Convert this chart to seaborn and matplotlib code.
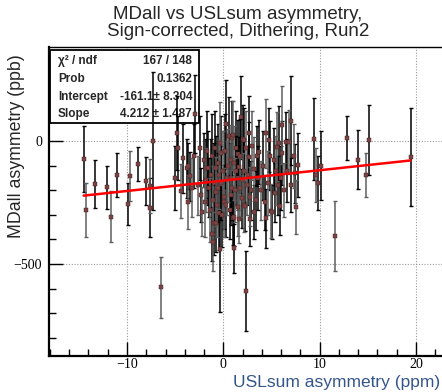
"""
MDall vs USLsum asymmetry — sign-corrected, dithering, Run2
Error-bar scatter with linear fit and ROOT-style stats box.
Output : out.png
"""

import numpy as np
import matplotlib
matplotlib.use('Agg')
import matplotlib.pyplot as plt
from matplotlib.patches import Rectangle
from matplotlib.ticker import MultipleLocator
import seaborn as sns

# ── Data ──────────────────────────────────────────────────────
usl = [
    -14.5, -14.3, -13.3, -12.1, -11.7, -11.0, -9.9, -9.7, -8.9, -8.0,
    -7.65, -7.65, -7.3, -6.5, -4.8, -4.75, -4.4, -3.8, -3.7, -3.7,
    -3.5, -2.9, -2.2, -1.8, -2.0, -1.77, -1.6, -1.15, -1.05, -0.98,
    -0.8, -0.8, -0.8, -0.45, -0.45, -0.3, -0.28, 0.07, 0.07, 0.24,
    0.4, 0.58, 0.75, 0.76, 0.93, 0.93, 1.0, 1.0, 1.1, 1.1,
    1.15, 1.5, 1.5, 1.5, 1.6, 1.6, 1.8, 1.9, 2.0, 2.0,
    2.1, 2.1, 2.3, 2.4, 2.5, 2.66, 2.7, 2.77, 2.8, 3.2,
    3.2, 3.45, 3.7, 4.45, 4.45, 4.7, 5.0, 5.1, 5.25, 5.6,
    5.8, 5.85, 6.1, 6.1, 6.5, 6.8, 7.06, 7.45, 7.6, 7.75,
    9.4, 9.6, 9.8, 10.1, 11.55, 12.8, 14.0, 14.85, 15.1, 19.45,
    -2.6, -2.4, -2.3, -1.9, -1.7, -1.5, -1.4, -1.3, -1.2, -1.1,
    -1.0, -0.9, -0.7, -0.6, -0.5, -0.35, -0.2, -0.1, 0.0, 0.15,
    0.3, 0.5, 0.65, 0.85, 1.2, 1.3, 1.35, 1.7, 1.75, 2.2,
    2.35, 2.6, 2.9, 3.0, 3.4, 3.6, 3.9, 4.1, 4.3, 4.6,
    4.9, 5.4, 5.5, 5.7, 6.0, 6.3, 6.6, 7.0, 7.3, -5.0,
    -4.2, -3.3, -3.0,
]
mdall = [
    -72, -280, -175, -188, -308, -138, -257, -142, -93, -163,
    -183, -272, 0, -595, 34, -29, -203, -110, -102, -247,
    -143, 110, -287, -110, -77, -159, -111, -378, -409, -335,
    -332, -206, -111, -294, -138, -439, -50, -249, -226, 68,
    -152, 20, -220, -77, 11, -192, 24, -314, -308, -91,
    -436, -152, -267, -53, -104, -316, 96, -233, -159, 7,
    4, -260, -264, -610, -179, -64, 31, -226, -318, -287,
    -115, -61, -46, 31, -314, 4, -283, -287, -77, -23,
    -9, -264, 65, -50, -4, -4, 83, -131, -267, -98,
    7, -138, -172, -100, -385, 11, -77, -138, 4, -64,
    -180, -30, -220, -250, -40, -190, -280, -140, -60, -240,
    -170, -30, -260, -90, -190, -10, -170, -300, -120, -40,
    -260, -100, -280, -150, -200, -30, -120, -190, -60, -120,
    -30, -140, -200, -20, -240, -150, -200, -100, -250, -170,
    -60, -210, -120, -180, -150, -200, -120, -180, -60, -150,
    -70, -190, -60,
]
err = [
    134, 110, 96, 87, 103, 88, 85, 100, 70, 98,
    110, 120, 280, 124, 150, 130, 110, 120, 95, 110,
    100, 160, 100, 120, 110, 130, 150, 110, 120, 130,
    120, 140, 130, 150, 140, 255, 150, 140, 130, 180,
    150, 160, 120, 140, 150, 130, 140, 110, 120, 150,
    100, 130, 120, 140, 120, 100, 170, 120, 110, 140,
    130, 110, 100, 163, 120, 140, 150, 120, 110, 110,
    130, 120, 130, 140, 120, 130, 110, 110, 130, 140,
    150, 120, 160, 130, 120, 130, 180, 120, 110, 130,
    166, 110, 110, 140, 143, 90, 120, 88, 142, 200,
    120, 130, 110, 140, 160, 120, 130, 150, 170, 140,
    160, 150, 130, 160, 140, 170, 150, 130, 160, 150,
    130, 150, 120, 140, 130, 150, 140, 120, 150, 130,
    150, 120, 120, 140, 120, 130, 120, 140, 110, 130,
    140, 120, 140, 120, 130, 110, 130, 110, 130, 130,
    140, 120, 130,
]

fit_intercept = -161.1
fit_slope = 4.212

stats_labels = ['χ² / ndf', 'Prob', 'Intercept', 'Slope']
stats_values = ['167 / 148', '0.1362', '-161.1± 8.304', '4.212 ± 1.487']

# ── Style ─────────────────────────────────────────────────────
sns.set_style('white')
plt.rcParams['font.family'] = ['Liberation Sans', 'DejaVu Sans']
plt.rcParams['xtick.direction'] = 'in'
plt.rcParams['ytick.direction'] = 'in'

W, H = 442, 392
fig = plt.figure(figsize=(W / 100, H / 100), dpi=100, facecolor='white')
ax = fig.add_axes([49 / W, 36 / H, 400 / W, 309 / H])

x = np.array(usl, dtype=float)
y = np.array(mdall, dtype=float)
e = np.array(err, dtype=float)

# error bars, mostly black with some lighter ones like the ROOT render
idx = np.arange(len(x))
for sel, col in [(idx % 3 != 1, '#000000'), (idx % 3 == 1, '#5e5e5e')]:
    ax.errorbar(x[sel], y[sel], yerr=e[sel], fmt='none', ecolor=col,
                elinewidth=1.1, capsize=1.5, capthick=1.0, zorder=2)

sns.scatterplot(x=x, y=y, marker='s', s=5, color='#7e4444',
                edgecolor='#3a1a1a', linewidth=0.3, zorder=3, ax=ax)

xf = np.array([x.min(), x.max()])
sns.lineplot(x=xf, y=fit_intercept + fit_slope * xf, color='#ff0000',
             linewidth=1.8, zorder=4, ax=ax)

# ── Axes formatting ───────────────────────────────────────────
ax.set_xlim(-18.1, 23.44)
ax.set_ylim(-874, 382)
ax.xaxis.set_major_locator(MultipleLocator(10))
ax.xaxis.set_minor_locator(MultipleLocator(2))
ax.yaxis.set_major_locator(MultipleLocator(500))
ax.yaxis.set_minor_locator(MultipleLocator(100))
ax.tick_params(which='both', direction='in', bottom=True, left=True,
               top=False, right=False, colors='black')
ax.tick_params(which='major', direction='in', length=10, width=1.0)
ax.tick_params(which='minor', direction='in', length=5, width=1.0)
ax.tick_params(axis='x', which='major', pad=1.5)
ax.tick_params(axis='y', which='major', pad=5)
for lab in ax.get_xticklabels() + ax.get_yticklabels():
    lab.set_family('Liberation Serif')
    lab.set_fontsize(10)
ax.grid(which='major', color='#9a9a9a', linestyle=(0, (1, 1.5)), linewidth=0.8)
ax.set_xlabel('')
ax.set_ylabel('')
for side in ['left', 'bottom']:
    ax.spines[side].set_linewidth(1.6)
ax.spines['top'].set_linewidth(1.0)
ax.spines['right'].set_visible(False)
for s in ax.spines.values():
    s.set_color('black')

# ── Stats box (data drawn over it) ────────────────────────────
ax.add_patch(Rectangle((50 / W, 1 - 123 / H), 149 / W, 73 / H,
                       transform=fig.transFigure, facecolor='white',
                       edgecolor='black', linewidth=1.3, zorder=1.5,
                       clip_on=False))
for i, (lab, val) in enumerate(zip(stats_labels, stats_values)):
    yy = 1 - (64 + i * 17.8) / H
    ax.text(58 / W, yy, lab, transform=fig.transFigure, ha='left',
            va='baseline', fontsize=8.5, fontweight='bold', zorder=1.6)
    ax.text(192 / W, yy, val, transform=fig.transFigure, ha='right',
            va='baseline', fontsize=8.5, fontweight='bold', zorder=1.6)

# ── Titles / labels ───────────────────────────────────────────
fig.text(238 / W, 1 - 6 / H, 'MDall vs USLsum asymmetry,\nSign-corrected, Dithering, Run2',
         ha='center', va='top', fontsize=13.5, linespacing=1.0)
fig.text(17 / W, 1 - 54 / H, 'MDall asymmetry (ppb)', rotation=90,
         ha='center', va='top', fontsize=12.8)
fig.text(440 / W, 5 / H, 'USLsum asymmetry (ppm)', ha='right',
         va='baseline', fontsize=12.5, color='#34558b')

fig.savefig('out.png', dpi=100, facecolor='white')
print("Saved → out.png")
